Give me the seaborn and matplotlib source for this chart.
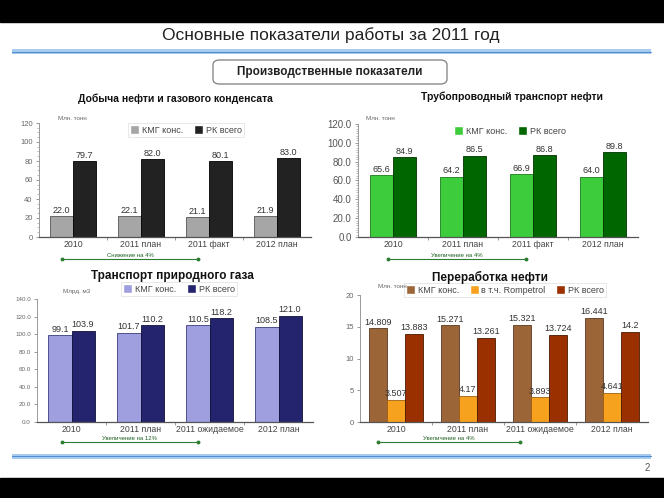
import numpy as np
import pandas as pd
import matplotlib
matplotlib.use('Agg')
import matplotlib.pyplot as plt
import seaborn as sns
from matplotlib.patches import Rectangle, FancyBboxPatch
from matplotlib.lines import Line2D
from matplotlib.ticker import MultipleLocator, FixedLocator

# Данные
years_a = ['2010', '2011 план', '2011 факт', '2012 план']
years_b = ['2010', '2011 план', '2011 ожидаемое', '2012 план']

oil_kmg = [22.0, 22.1, 21.1, 21.9]
oil_rk = [79.7, 82.0, 80.1, 83.0]

pipe_kmg = [65.6, 64.2, 66.9, 64.0]
pipe_rk = [84.9, 86.5, 86.8, 89.8]

gas_kmg = [99.1, 101.7, 110.5, 108.5]
gas_rk = [103.9, 110.2, 118.2, 121.0]

ref_kmg = [14.809, 15.271, 15.321, 16.441]
ref_romp = [3.507, 4.17, 3.893, 4.641]
ref_rk = [13.883, 13.261, 13.724, 14.2]

W, H = 664, 498
sns.set_theme(style='white')
plt.rcParams['font.family'] = ['Liberation Sans', 'DejaVu Sans']

fig = plt.figure(figsize=(W / 100, H / 100), dpi=100)
fig.patch.set_facecolor('white')


def fx(x):
    return x / W


def fy(y):
    return 1 - y / H


def draw_chart(rect, cats, series, colors, edges, ylim, step, fmt, width,
               minor=None, leg_center=None, leg_frame=True):
    ax = fig.add_axes(rect)
    names = list(series.keys())
    df = pd.DataFrame({
        'cat': cats * len(names),
        'series': [n for n in names for _ in cats],
        'val': [v for n in names for v in series[n]],
    })
    sns.barplot(data=df, x='cat', y='val', hue='series', order=cats, hue_order=names,
                palette=colors, width=width, saturation=1, ax=ax)
    for cont, n, ec in zip(ax.containers, names, edges):
        for b in cont:
            b.set_edgecolor(ec)
            b.set_linewidth(0.6)
        ax.bar_label(cont, labels=[fmt(v) for v in series[n]], padding=1,
                     fontsize=6.5, color='#333333')
    ax.set_ylim(*ylim)
    ax.set_xlim(-0.5, len(cats) - 0.5)
    ax.yaxis.set_major_locator(MultipleLocator(step))
    if minor:
        ax.yaxis.set_minor_locator(MultipleLocator(minor))
    ax.xaxis.set_minor_locator(FixedLocator(np.arange(0.5, len(cats) - 1, 1)))
    ax.tick_params(axis='y', which='major', left=True, length=2.5, width=0.6,
                   labelsize=5.5, labelcolor='#666666', color='#888888', pad=2)
    ax.tick_params(axis='y', which='minor', left=True, length=1.5, width=0.4, color='#888888')
    ax.tick_params(axis='x', which='major', bottom=False, length=0, labelsize=6.3,
                   labelcolor='#444444', pad=2)
    ax.tick_params(axis='x', which='minor', bottom=True, length=2.5, width=0.6, color='#888888')
    ax.set_xlabel('')
    ax.set_ylabel('')
    sns.despine(ax=ax)
    ax.spines['left'].set_color('#999999')
    ax.spines['left'].set_linewidth(0.7)
    ax.spines['bottom'].set_color('#555555')
    ax.spines['bottom'].set_linewidth(0.9)
    handles, labels = ax.get_legend_handles_labels()
    leg = ax.legend(handles, labels, loc='center', ncol=len(names),
                    bbox_to_anchor=(fx(leg_center[0]), fy(leg_center[1])),
                    bbox_transform=fig.transFigure, fontsize=6.5, frameon=leg_frame,
                    handlelength=1.0, handleheight=1.0, handletextpad=0.3,
                    columnspacing=1.2, borderpad=0.25, fancybox=False)
    if leg_frame:
        leg.get_frame().set_edgecolor('#dddddd')
        leg.get_frame().set_linewidth(0.6)
    for t in leg.get_texts():
        t.set_color('#444444')
    return ax


def f1(v):
    return f'{v:.1f}'


def fint(v):
    return f'{v:g}'


# Чёрные полосы
fig.add_artist(Rectangle((0, fy(22)), 1, 22 / H, transform=fig.transFigure,
                         color='black', zorder=0))
fig.add_artist(Rectangle((0, 0), 1, 20 / H, transform=fig.transFigure,
                         color='black', zorder=0))

fig.text(fx(331), fy(35), 'Основные показатели работы за 2011 год', ha='center',
         va='center', fontsize=12.5, color='#222222')


def double_line(y):
    fig.add_artist(Rectangle((fx(12), fy(y + 2.5)), fx(651) - fx(12), 5 / H,
                             transform=fig.transFigure, color='#a9cdee', lw=0))
    fig.add_artist(Line2D([fx(12), fx(651)], [fy(y), fy(y)], transform=fig.transFigure,
                          color='#4f8fd0', lw=0.8))


double_line(52)
double_line(456)

fig.add_artist(FancyBboxPatch((fx(213), fy(84)), fx(447) - fx(213), 24 / H,
                              boxstyle='round,pad=0,rounding_size=0.01',
                              transform=fig.transFigure, facecolor='white',
                              edgecolor='#8a8a8a', lw=1.0))
fig.text(fx(330), fy(72), 'Производственные показатели', ha='center', va='center',
         fontsize=8.5, fontweight='bold', color='#222222')

fig.text(fx(175), fy(99), 'Добыча нефти и газового конденсата', ha='center', va='center',
         fontsize=7.5, fontweight='bold', color='#111111')
fig.text(fx(512), fy(97), 'Трубопроводный транспорт нефти', ha='center', va='center',
         fontsize=7.5, fontweight='bold', color='#111111')
fig.text(fx(172), fy(276), 'Транспорт природного газа', ha='center', va='center',
         fontsize=8.5, fontweight='bold', color='#111111')
fig.text(fx(490), fy(277), 'Переработка нефти', ha='center', va='center',
         fontsize=8.5, fontweight='bold', color='#111111')

# Добыча
draw_chart([fx(39), fy(237), fx(311) - fx(39), 114 / H], years_a,
           {'КМГ конс.': oil_kmg, 'РК всего': oil_rk},
           ['#a6a6a6', '#222222'], ['#555555', '#000000'],
           (0, 120), 20, f1, 0.68, minor=5, leg_center=(186, 130))
fig.text(fx(58), fy(118), 'Млн. тонн', fontsize=4.5, color='#666666', va='center')

# Трубопровод
draw_chart([fx(358), fy(237), fx(638) - fx(358), 113 / H], years_a,
           {'КМГ конс.': pipe_kmg, 'РК всего': pipe_rk},
           ['#3ccc3c', '#006600'], ['#1d7a1d', '#003300'],
           (0, 120), 20, f1, 0.66, minor=2.5, leg_center=(510, 131), leg_frame=False)
fig.axes[-1].yaxis.set_major_formatter(plt.FuncFormatter(lambda v, p: f'{v:.1f}'))
fig.axes[-1].tick_params(axis='y', labelsize=7, labelcolor='#555555')
fig.text(fx(366), fy(118), 'Млн. тонн', fontsize=4.5, color='#666666', va='center')

# Газ
draw_chart([fx(37), fy(422), fx(313) - fx(37), 123 / H], years_b,
           {'КМГ конс.': gas_kmg, 'РК всего': gas_rk},
           ['#9f9fe0', '#24246e'], ['#3a3a7a', '#10103a'],
           (0, 140), 20, f1, 0.67, leg_center=(179, 289))
fig.axes[-1].yaxis.set_major_formatter(plt.FuncFormatter(lambda v, p: f'{v:.1f}'))
fig.axes[-1].tick_params(axis='y', labelsize=4.5)
fig.text(fx(63), fy(292), 'Млрд. м3', fontsize=4.5, color='#666666', va='center')

# Переработка
draw_chart([fx(360), fy(422), fx(648) - fx(360), 127 / H], years_b,
           {'КМГ конс.': ref_kmg, 'в т.ч. Rompetrol': ref_romp, 'РК всего': ref_rk},
           ['#9c6538', '#f7a21f', '#9a3000'], ['#5a3a20', '#a06010', '#4a1800'],
           (0, 20), 5, fint, 0.75, leg_center=(505, 290))
fig.text(fx(378), fy(286), 'Млн. тонн', fontsize=4.5, color='#666666', va='center')


def note(x0, x1, y, text):
    fig.add_artist(Line2D([fx(x0), fx(x1)], [fy(y), fy(y)], transform=fig.transFigure,
                          color='#2e7d32', lw=0.8, marker='o', ms=1.8))
    fig.text(fx((x0 + x1) / 2), fy(y - 3.5), text, ha='center', va='center',
             fontsize=4.3, color='#1b5e20')


note(62, 198, 259, 'Снижение на 4%')
note(388, 526, 259, 'Увеличение на 4%')
note(62, 198, 442, 'Увеличение на 12%')
note(378, 520, 442, 'Увеличение на 4%')

fig.text(fx(647), fy(468), '2', ha='center', va='center', fontsize=7, color='#555555')

fig.savefig('out.png', dpi=100)
